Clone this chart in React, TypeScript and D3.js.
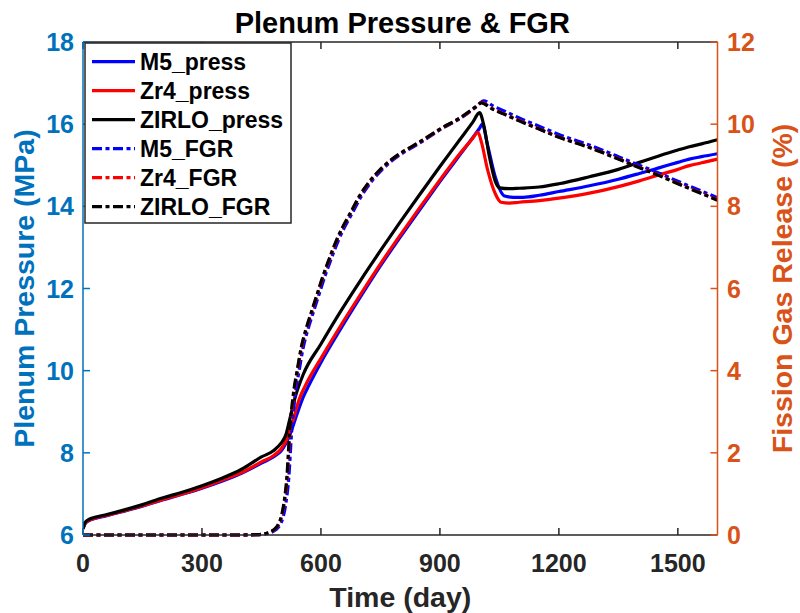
import React from "react";
import * as d3 from "d3";

// ---------- data ----------
const xTicks = [0, 300, 600, 900, 1200, 1500];
const yLeftTicks = [6, 8, 10, 12, 14, 16, 18];
const yRightTicks = [0, 2, 4, 6, 8, 10, 12];

const zirloPressT = [0, 5, 15, 30, 60, 100, 150, 200, 250, 300, 350, 400, 450, 480, 500, 512, 521, 535, 555, 600, 650, 700, 750, 800, 850, 900, 950, 983, 1000, 1010, 1025, 1040, 1050, 1075, 1100, 1150, 1200, 1277, 1350, 1403, 1450, 1500, 1529, 1560, 1600];
const zirloPressV = [6.15, 6.3, 6.38, 6.43, 6.5, 6.6, 6.74, 6.9, 7.04, 7.2, 7.38, 7.6, 7.9, 8.05, 8.24, 8.45, 8.8, 9.35, 9.9, 10.65, 11.45, 12.2, 12.92, 13.62, 14.3, 14.97, 15.62, 16.05, 16.28, 16.0, 15.2, 14.6, 14.45, 14.43, 14.44, 14.47, 14.55, 14.72, 14.9, 15.07, 15.22, 15.37, 15.45, 15.52, 15.62];

const zr4PressT = [0, 5, 15, 30, 60, 100, 150, 200, 250, 300, 350, 400, 450, 480, 500, 515, 530, 545, 563, 600, 650, 700, 750, 800, 850, 900, 950, 980, 996, 1005, 1020, 1040, 1054, 1075, 1100, 1151, 1200, 1277, 1350, 1403, 1450, 1500, 1529, 1560, 1600];
const zr4PressV = [6.15, 6.28, 6.36, 6.41, 6.48, 6.58, 6.71, 6.86, 7.0, 7.15, 7.33, 7.52, 7.78, 7.93, 8.1, 8.35, 8.8, 9.3, 9.68, 10.3, 11.1, 11.86, 12.6, 13.3, 13.98, 14.64, 15.28, 15.62, 15.8, 15.55, 14.9, 14.3, 14.1, 14.08, 14.1, 14.14, 14.2, 14.32, 14.48, 14.62, 14.76, 14.9, 14.99, 15.06, 15.15];

const m5PressT = [0, 5, 15, 30, 60, 100, 150, 200, 250, 300, 350, 400, 450, 480, 500, 520, 540, 555, 570, 600, 650, 700, 750, 800, 850, 900, 950, 985, 1000, 1007, 1020, 1040, 1063, 1085, 1110, 1151, 1200, 1277, 1350, 1403, 1450, 1500, 1529, 1560, 1600];
const m5PressV = [6.15, 6.27, 6.35, 6.4, 6.47, 6.57, 6.7, 6.85, 6.99, 7.14, 7.31, 7.5, 7.75, 7.9, 8.05, 8.4, 8.95, 9.35, 9.65, 10.2, 11.02, 11.8, 12.55, 13.25, 13.93, 14.6, 15.25, 15.7, 15.9, 16.0, 15.5, 14.7, 14.25, 14.22, 14.22, 14.27, 14.36, 14.5, 14.66, 14.8, 14.93, 15.07, 15.15, 15.21, 15.28];

const zirloFgrT = [0, 100, 200, 300, 400, 440, 465, 480, 492, 500, 507, 514, 521, 530, 540, 550, 562, 575, 590, 605, 620, 638, 655, 672, 697, 722, 748, 773, 800, 832, 866, 900, 950, 990, 1005, 1030, 1060, 1100, 1150, 1200, 1277, 1350, 1400, 1450, 1500, 1550, 1600];
const zirloFgrV = [0, 0, 0, 0, 0, 0.01, 0.05, 0.12, 0.25, 0.45, 0.8, 1.4, 2.5, 3.4, 4.0, 4.55, 5.0, 5.4, 5.85, 6.3, 6.7, 7.15, 7.5, 7.8, 8.25, 8.6, 8.88, 9.1, 9.29, 9.47, 9.67, 9.88, 10.15, 10.42, 10.52, 10.38, 10.25, 10.08, 9.88, 9.68, 9.43, 9.15, 8.95, 8.76, 8.55, 8.35, 8.15];

const zr4FgrT = [0, 100, 200, 300, 400, 440, 466, 481, 493, 501, 508, 515, 522, 531, 541, 551, 563, 576, 591, 606, 621, 639, 656, 673, 698, 723, 749, 774, 801, 833, 867, 901, 951, 991, 1005, 1030, 1060, 1100, 1150, 1200, 1277, 1350, 1400, 1450, 1500, 1550, 1600];
const zr4FgrV = [0, 0, 0, 0, 0, 0.01, 0.05, 0.12, 0.25, 0.45, 0.8, 1.4, 2.5, 3.4, 4.0, 4.55, 5.0, 5.4, 5.85, 6.3, 6.7, 7.15, 7.5, 7.8, 8.25, 8.6, 8.88, 9.1, 9.29, 9.47, 9.67, 9.88, 10.15, 10.42, 10.53, 10.39, 10.26, 10.09, 9.89, 9.69, 9.44, 9.16, 8.96, 8.77, 8.56, 8.36, 8.16];

const m5FgrT = [0, 100, 200, 300, 400, 445, 470, 485, 497, 505, 512, 519, 526, 535, 545, 555, 567, 580, 595, 610, 625, 643, 660, 677, 702, 727, 753, 778, 805, 837, 870, 903, 953, 995, 1010, 1035, 1065, 1100, 1150, 1200, 1277, 1350, 1400, 1450, 1500, 1550, 1600];
const m5FgrV = [0, 0, 0, 0, 0, 0.01, 0.05, 0.12, 0.25, 0.45, 0.8, 1.4, 2.5, 3.4, 4.0, 4.55, 5.0, 5.4, 5.85, 6.3, 6.7, 7.15, 7.5, 7.8, 8.25, 8.6, 8.88, 9.1, 9.29, 9.47, 9.67, 9.88, 10.15, 10.45, 10.57, 10.44, 10.31, 10.15, 9.95, 9.75, 9.49, 9.21, 9.01, 8.82, 8.61, 8.41, 8.21];

const legendLabels = ["M5_press", "Zr4_press", "ZIRLO_press", "M5_FGR", "Zr4_FGR", "ZIRLO_FGR"];

// ---------- layout ----------
const W = 800, H = 613;
const L = 83, R = 717.5, T = 42, B = 535;
const FONT = "'Liberation Sans', Arial, Helvetica, sans-serif";
const BLUE_AX = "#0072BD", ORANGE_AX = "#D95319", GRAY = "#262626";
const DASH = "10,3.5,4,3.5";

export default function App() {
  const x = d3.scaleLinear().domain([0, 1600]).range([L, R]);
  const yL = d3.scaleLinear().domain([6, 18]).range([B, T]);
  const yR = d3.scaleLinear().domain([0, 12]).range([B, T]);

  const mk = (ts: number[], vs: number[], ys: d3.ScaleLinear<number, number>) =>
    d3.line<number>().x((_, i) => x(ts[i])).y((v) => ys(v)).curve(d3.curveMonotoneX)(vs) || "";

  const series = [
    { d: mk(m5PressT, m5PressV, yL), color: "#0000FF", dash: undefined },
    { d: mk(zr4PressT, zr4PressV, yL), color: "#FF0000", dash: undefined },
    { d: mk(zirloPressT, zirloPressV, yL), color: "#000000", dash: undefined },
    { d: mk(m5FgrT, m5FgrV, yR), color: "#0000FF", dash: DASH },
    { d: mk(zr4FgrT, zr4FgrV, yR), color: "#FF0000", dash: DASH },
    { d: mk(zirloFgrT, zirloFgrV, yR), color: "#000000", dash: DASH },
  ];

  const tickLen = 7;
  const legX = 85, legY = 43, legW = 206, legH = 180, rowH = 29;

  return (
    <svg width={W} height={H} style={{ position: "absolute", left: 0, top: 0, background: "#fff" }} fontFamily={FONT} fontWeight="bold">
      <rect x={0} y={0} width={W} height={H} fill="#fff" />
      <defs>
        <clipPath id="plot">
          <rect x={L} y={T - 2} width={R - L} height={B - T + 4} />
        </clipPath>
      </defs>

      {/* data lines */}
      <g clipPath="url(#plot)">
        {series.map((s, i) => (
          <path key={i} d={s.d} fill="none" stroke={s.color} strokeWidth={3.2} strokeDasharray={s.dash} strokeLinejoin="round" />
        ))}
      </g>

      {/* x axes (bottom & top) */}
      <line x1={L} x2={R} y1={B} y2={B} stroke={GRAY} strokeWidth={1.5} />
      <line x1={L} x2={R} y1={T} y2={T} stroke={GRAY} strokeWidth={1.5} />
      {xTicks.map((t) => (
        <g key={"xt" + t}>
          <line x1={x(t)} x2={x(t)} y1={B} y2={B - tickLen} stroke={GRAY} strokeWidth={1.5} />
          <line x1={x(t)} x2={x(t)} y1={T} y2={T + tickLen} stroke={GRAY} strokeWidth={1.5} />
          <text x={x(t)} y={572} textAnchor="middle" fontSize={25} fill={GRAY}>{t}</text>
        </g>
      ))}

      {/* left axis */}
      <line x1={L} x2={L} y1={T} y2={B} stroke={BLUE_AX} strokeWidth={1.5} />
      {yLeftTicks.map((t) => (
        <g key={"yl" + t}>
          <line x1={L} x2={L + tickLen} y1={yL(t)} y2={yL(t)} stroke={BLUE_AX} strokeWidth={1.5} />
          <text x={74} y={yL(t)} dy="0.36em" textAnchor="end" fontSize={25} fill={BLUE_AX}>{t}</text>
        </g>
      ))}

      {/* right axis */}
      <line x1={R} x2={R} y1={T} y2={B} stroke={ORANGE_AX} strokeWidth={1.5} />
      {yRightTicks.map((t) => (
        <g key={"yr" + t}>
          <line x1={R} x2={R - tickLen} y1={yR(t)} y2={yR(t)} stroke={ORANGE_AX} strokeWidth={1.5} />
          <text x={727} y={yR(t)} dy="0.36em" textAnchor="start" fontSize={25} fill={ORANGE_AX}>{t}</text>
        </g>
      ))}

      {/* title & labels */}
      <text x={(L + R) / 2 + 2} y={32.5} textAnchor="middle" fontSize={29} fill="#000">Plenum Pressure &amp; FGR</text>
      <text x={(L + R) / 2} y={607} textAnchor="middle" fontSize={28.5} fill={GRAY}>Time (day)</text>
      <text transform={`translate(33.5, ${(T + B) / 2}) rotate(-90)`} textAnchor="middle" fontSize={28.5} fill={BLUE_AX}>Plenum Pressure (MPa)</text>
      <text transform={`translate(791.5, ${(T + B) / 2}) rotate(-90)`} textAnchor="middle" fontSize={28.5} fill={ORANGE_AX}>Fission Gas Release (%)</text>

      {/* legend */}
      <rect x={legX} y={legY} width={legW} height={legH} fill="#fff" stroke={GRAY} strokeWidth={1.5} />
      {legendLabels.map((lab, i) => {
        const cy = 61.7 + i * rowH;
        const s = series[i];
        return (
          <g key={lab}>
            <line x1={92} x2={135} y1={cy} y2={cy} stroke={s.color} strokeWidth={3.2} strokeDasharray={s.dash} />
            <text x={140} y={cy} dy="0.36em" fontSize={23} fill="#000">{lab}</text>
          </g>
        );
      })}
    </svg>
  );
}
